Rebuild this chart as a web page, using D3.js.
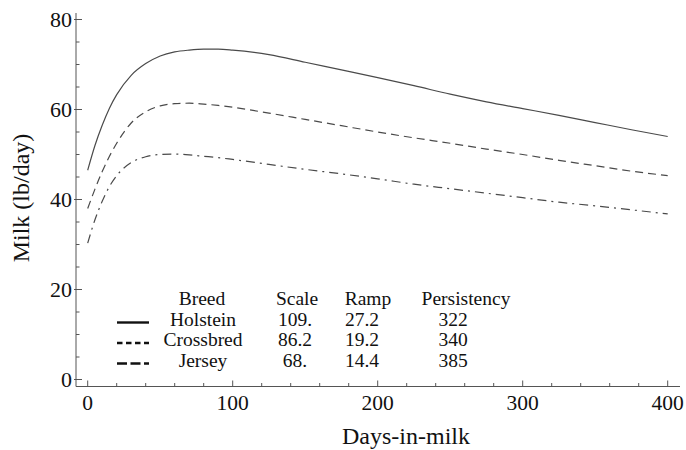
<!DOCTYPE html>
<html>
<head>
<meta charset="utf-8">
<script src="https://cdn.jsdelivr.net/npm/d3@7"></script>
<style>
    body { margin: 0; background: #fff; }
</style>
</head>
<body>
<div id="visualization"></div>
<script>
'use strict';

const days = [0, 5, 10, 15, 20, 30, 40, 50, 60, 70, 80, 90, 100, 125, 150, 175, 200, 225, 250, 275, 300, 325, 350, 375, 400];

const holstein  = [46.5, 52.0, 56.5, 60.3, 63.3, 67.6, 70.2, 71.9, 72.8, 73.2, 73.4, 73.4, 73.2, 72.2, 70.5, 68.8, 67.1, 65.3, 63.4, 61.7, 60.2, 58.7, 57.1, 55.5, 54.0];
const crossbred = [38.0, 42.3, 46.2, 49.6, 52.5, 57.0, 59.5, 60.8, 61.3, 61.4, 61.2, 60.9, 60.5, 59.2, 57.8, 56.4, 55.0, 53.7, 52.5, 51.2, 50.0, 48.7, 47.5, 46.3, 45.3];
const jersey    = [30.3, 35.5, 39.6, 42.9, 45.3, 48.2, 49.5, 50.0, 50.1, 49.9, 49.6, 49.3, 48.9, 47.8, 46.7, 45.7, 44.6, 43.4, 42.4, 41.4, 40.4, 39.4, 38.6, 37.7, 36.8];

// legend table
const breedNames    = ['Holstein', 'Crossbred', 'Jersey'];
const scaleValues   = ['109.', '86.2', '68.'];
const rampValues    = ['27.2', '19.2', '14.4'];
const persistValues = ['322', '340', '385'];

const xTicks = [0, 100, 200, 300, 400];
const yTicks = [0, 20, 40, 60, 80];

const width = 686;
const height = 450;
const serif = '"Liberation Serif", "Times New Roman", "DejaVu Serif", serif';

const svg = d3.select('#visualization')
    .append('svg')
    .attr('width', width)
    .attr('height', height)
    .attr('font-family', serif);

const x = d3.scaleLinear().domain([0, 400]).range([87.7, 667.7]);
const y = d3.scaleLinear().domain([0, 80]).range([379.5, 19.5]);

const axisX = 76;     // y axis sits left of day 0
const axisY = 386.5;  // x axis sits below 0 lb

const axisColor = '#555';

// ---- axes (Mathematica style, ticks pointing inwards)
svg.append('line')
    .attr('x1', axisX).attr('x2', axisX)
    .attr('y1', 13).attr('y2', axisY)
    .attr('stroke', axisColor).attr('stroke-width', 1);

svg.append('line')
    .attr('x1', axisX).attr('x2', 680)
    .attr('y1', axisY).attr('y2', axisY)
    .attr('stroke', axisColor).attr('stroke-width', 1);

const yMinor = d3.range(0, 81, 5).filter(function(v) { return v % 20 !== 0; });
const xMinor = d3.range(0, 401, 20).filter(function(v) { return v % 100 !== 0; });

svg.selectAll('.y-major')
    .data(yTicks)
    .enter()
        .append('line')
        .attr('x1', axisX - 2).attr('x2', axisX + 6)
        .attr('y1', function(d) { return y(d); })
        .attr('y2', function(d) { return y(d); })
        .attr('stroke', axisColor);

svg.selectAll('.y-minor')
    .data(yMinor)
    .enter()
        .append('line')
        .attr('x1', axisX).attr('x2', axisX + 3.5)
        .attr('y1', function(d) { return y(d); })
        .attr('y2', function(d) { return y(d); })
        .attr('stroke', axisColor);

svg.selectAll('.x-major')
    .data(xTicks)
    .enter()
        .append('line')
        .attr('y1', axisY).attr('y2', axisY - 6)
        .attr('x1', function(d) { return x(d); })
        .attr('x2', function(d) { return x(d); })
        .attr('stroke', axisColor);

svg.selectAll('.x-minor')
    .data(xMinor)
    .enter()
        .append('line')
        .attr('y1', axisY).attr('y2', axisY - 3.5)
        .attr('x1', function(d) { return x(d); })
        .attr('x2', function(d) { return x(d); })
        .attr('stroke', axisColor);

svg.selectAll('.y-label')
    .data(yTicks)
    .enter()
        .append('text')
        .attr('font-size', 22)
        .attr('fill', '#111')
        .attr('x', axisX - 4)
        .attr('y', function(d) { return y(d) + 7; })
        .attr('text-anchor', 'end')
        .text(function(d) { return d; });

svg.selectAll('.x-label')
    .data(xTicks)
    .enter()
        .append('text')
        .attr('font-size', 21.5)
        .attr('fill', '#111')
        .attr('x', function(d) { return x(d); })
        .attr('y', 410)
        .attr('text-anchor', 'middle')
        .text(function(d) { return d; });

svg.append('text')
    .attr('font-size', 24)
    .attr('fill', '#111')
    .attr('text-anchor', 'middle')
    .attr('transform', 'translate(29,198) rotate(-90)')
    .text('Milk (lb/day)');

svg.append('text')
    .attr('font-size', 24)
    .attr('fill', '#111')
    .attr('text-anchor', 'middle')
    .attr('x', 406)
    .attr('y', 444)
    .text('Days-in-milk');

// ---- curves
const line = d3.line()
    .x(function(d) { return x(d[0]); })
    .y(function(d) { return y(d[1]); })
    .curve(d3.curveMonotoneX);

const curves = [
    { values: holstein,  dash: null },
    { values: crossbred, dash: '8,5' },
    { values: jersey,    dash: '9,5,2,5' }
];

svg.selectAll('.curve')
    .data(curves)
    .enter()
        .append('path')
        .classed('curve', true)
        .attr('d', function(c) { return line(d3.zip(days, c.values)); })
        .attr('fill', 'none')
        .attr('stroke', '#4a4a4a')
        .attr('stroke-width', 1.2)
        .attr('stroke-dasharray', function(c) { return c.dash; });

// ---- legend table
const rowY = [325.5, 346, 366.5];
const headerY = 305;
const swatchDash = [null, '5.5,3.5', '10,3.5'];
const legendSize = 19.5;

const headers = [
    { text: 'Breed', x: 202 },
    { text: 'Scale', x: 297 },
    { text: 'Ramp', x: 368 },
    { text: 'Persistency', x: 466 }
];

svg.selectAll('.legend-header')
    .data(headers)
    .enter()
        .append('text')
        .attr('font-size', legendSize)
        .attr('fill', '#111')
        .attr('x', function(d) { return d.x; })
        .attr('y', headerY)
        .attr('text-anchor', 'middle')
        .text(function(d) { return d.text; });

const columns = [
    { values: breedNames,    x: 203 },
    { values: scaleValues,   x: 295 },
    { values: rampValues,    x: 362 },
    { values: persistValues, x: 453 }
];

columns.forEach(function(col) {
    svg.selectAll(null)
        .data(col.values)
        .enter()
            .append('text')
            .attr('font-size', legendSize)
            .attr('fill', '#111')
            .attr('x', col.x)
            .attr('y', function(d, i) { return rowY[i]; })
            .attr('text-anchor', 'middle')
            .text(function(d) { return d; });
});

svg.selectAll('.swatch')
    .data(breedNames)
    .enter()
        .append('line')
        .classed('swatch', true)
        .attr('x1', 117).attr('x2', 149)
        .attr('y1', function(d, i) { return rowY[i] - 3; })
        .attr('y2', function(d, i) { return rowY[i] - 3; })
        .attr('stroke', '#111')
        .attr('stroke-width', 2.4)
        .attr('stroke-dasharray', function(d, i) { return swatchDash[i]; });
</script>
</body>
</html>
